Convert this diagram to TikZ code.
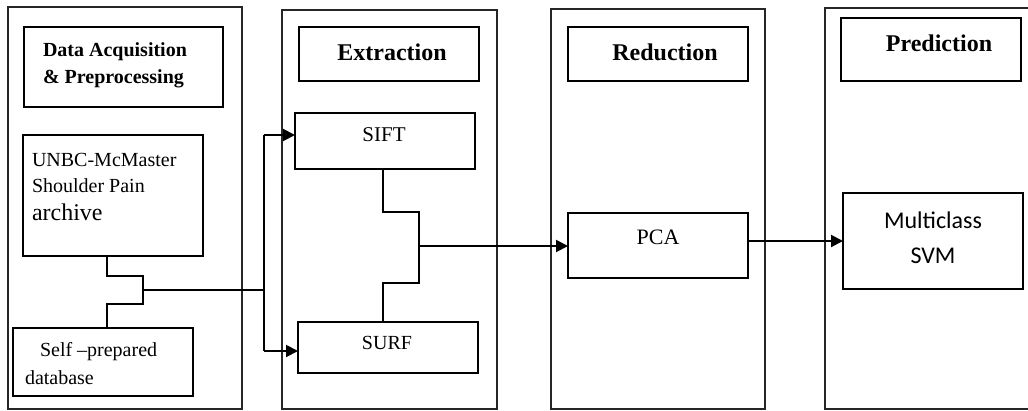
\documentclass[tikz,border=0pt]{standalone}
\usepackage{fontspec}
\setmainfont{Liberation Serif}
\newfontfamily\calibrifont{Carlito}
\usetikzlibrary{arrows.meta}

\tikzset{
  panel/.style={draw=black!85, line width=1.3pt, inner sep=0pt, outer sep=0pt, anchor=north west},
  box/.style={draw=black, line width=1.7pt, inner sep=0pt, outer sep=0pt, anchor=north west},
  txt/.style={inner sep=0pt, outer sep=0pt},
  wire/.style={draw=black, line width=1.7pt},
  flow/.style={draw=black, line width=2pt, -{Triangle[length=12pt,width=12pt]}},
}

\begin{document}
\begin{tikzpicture}[x=1pt, y=-1pt]
\useasboundingbox (0,0) rectangle (1028,410);

% stage panels
\node[panel, minimum width=234pt, minimum height=402pt] (p1) at (8,7) {};
\node[panel, minimum width=215pt, minimum height=399pt] (p2) at (282,10) {};
\node[panel, minimum width=214pt, minimum height=400pt] (p3) at (551,9) {};
\node[panel, minimum width=220pt, minimum height=401pt] (p4) at (825,8) {};

% stage titles
\node[box, minimum width=199pt, minimum height=80pt] (t1) at (24,27) {};
\node[txt, anchor=west, align=left, font=\bfseries\fontsize{20}{27}\selectfont] (t1txt) at (43,65.6) {Data Acquisition\\\& Preprocessing};
\node[box, minimum width=180pt, minimum height=54pt] (t2) at (299,27) {};
\node[txt, font=\bfseries\fontsize{24}{28}\selectfont] (t2txt) at (392,52) {Extraction};
\node[box, minimum width=180pt, minimum height=54pt] (t3) at (568,27) {};
\node[txt, font=\bfseries\fontsize{24}{28}\selectfont] (t3txt) at (665,52) {Reduction};
\node[box, minimum width=180pt, minimum height=63pt] (t4) at (841,18) {};
\node[txt, font=\bfseries\fontsize{24}{28}\selectfont] (t4txt) at (939,43) {Prediction};

% data sources
\node[box, minimum width=180pt, minimum height=121pt] (unbc) at (23,135) {};
\node[txt, anchor=west, align=left, font=\fontsize{20}{26}\selectfont] (unbctxt) at (32,187)
  {UNBC-McMaster\\Shoulder Pain\\[2pt]{\fontsize{24}{28}\selectfont archive}};
\node[box, minimum width=180pt, minimum height=68pt] (self) at (13,328) {};
\node[txt, anchor=west, align=left, font=\fontsize{20}{28}\selectfont] (selftxt) at (25,364)
  {\hspace{15pt}Self –prepared\\database};

% feature extractors
\node[box, minimum width=180pt, minimum height=56pt] (sift) at (295,113) {};
\node[txt, font=\fontsize{21}{24}\selectfont] (sifttxt) at (384,135) {SIFT};
\node[box, minimum width=180pt, minimum height=51pt] (surf) at (298,322) {};
\node[txt, font=\fontsize{20}{24}\selectfont] (surftxt) at (387,343) {SURF};

% reduction and classifier
\node[box, minimum width=180pt, minimum height=65pt] (pca) at (568,213) {};
\node[txt, font=\fontsize{22}{24}\selectfont] (pcatxt) at (658,237) {PCA};
\node[box, minimum width=180pt, minimum height=96pt] (svm) at (843,193) {};
\node[txt, align=center, font=\calibrifont\fontsize{24}{35}\selectfont] (svmtxt) at (933,237.5) {Multiclass\\SVM};

% junction points
\coordinate (j1a) at (107,276);
\coordinate (j1b) at (143,276);
\coordinate (j1c) at (143,304);
\coordinate (j1d) at (107,304);
\coordinate (j1m) at (143,290);
\coordinate (split) at (264,290);
\coordinate (splittop) at (264,135);
\coordinate (splitbot) at (264,351);
\coordinate (j2a) at (383,212);
\coordinate (j2b) at (419,212);
\coordinate (j2c) at (419,283);
\coordinate (j2d) at (383,283);
\coordinate (j2m) at (419,246);

% merge of the two sources
\draw[wire] (unbc.south -| j1a) -- (j1a) -- (j1b) -- (j1c) -- (j1d) -- (self.north -| j1d);
\draw[wire] (j1m) -- (split);
\draw[wire] (splittop) -- (splitbot);
\draw[flow] (splittop) -- (sift.west |- splittop);
\draw[flow] (splitbot) -- (surf.west |- splitbot);

% merge of the two feature sets
\draw[wire] (sift.south -| j2a) -- (j2a) -- (j2b) -- (j2c) -- (j2d) -- (surf.north -| j2d);
\draw[flow] (j2m) -- (pca.west |- j2m);
\draw[flow] (pca.east |- svm.west) -- (svm.west);
\end{tikzpicture}
\end{document}
